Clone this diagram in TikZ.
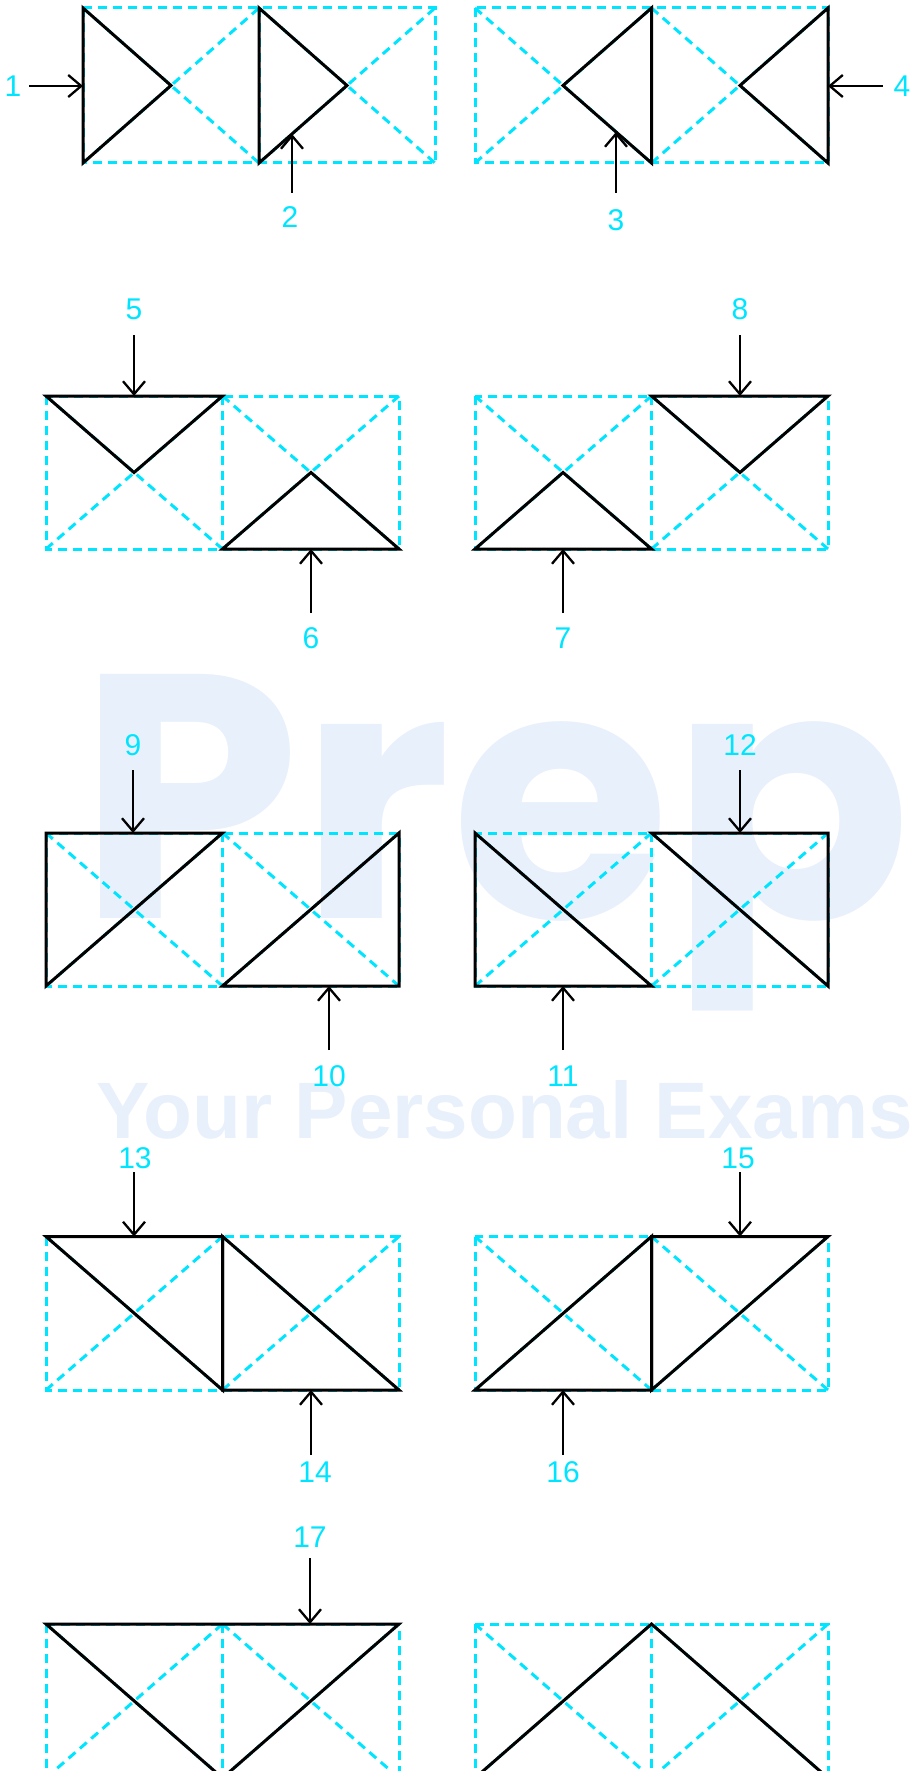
\documentclass[tikz,border=0pt]{standalone}
\usepackage{fontspec}
\setmainfont{Liberation Sans}
\newfontfamily\wmfont{Poppins}
\newfontfamily\wmfontb{Liberation Sans}
\usetikzlibrary{arrows.meta}
\definecolor{cy}{RGB}{0,229,255}
\definecolor{wmc}{RGB}{232,240,251}
\newcommand\pairgrid[5]{%
  \draw[grid] (#1,#4) rectangle (#3,#5);
  \draw[grid] (#2,#4) -- (#2,#5);
  \draw[grid] (#1,#4) -- (#2,#5) (#1,#5) -- (#2,#4) (#2,#4) -- (#3,#5) (#2,#5) -- (#3,#4);}
\begin{document}
\begin{tikzpicture}[x=1pt,y=-1pt,
  grid/.style={cy, line width=3pt, dash pattern=on 9pt off 6pt},
  blk/.style={black, line width=3pt, line join=miter, line cap=round},
  arr/.style={-{Straight Barb[length=13pt,width=22pt]}, line width=2.3pt, black},
  lab/.style={text=cy, font=\fontsize{30}{30}\selectfont, inner sep=0pt},
  wm/.style={text=wmc, inner sep=0pt, anchor=base west}]
\useasboundingbox (0,0) rectangle (910,1771);
\clip (0,0) rectangle (910,1771);
% watermark
\node[wm, font=\wmfont\bfseries\fontsize{355}{355}\selectfont, yscale=0.98] (wmA) at (78,918) {Prep};
\node[wm, font=\wmfontb\bfseries\fontsize{80}{80}\selectfont] (wmB) at (96,1138) {Your Personal Exams};
% dashed grids
\pairgrid{83}{259}{435}{8}{163}
\pairgrid{475}{651.5}{828}{8}{163}
\pairgrid{46}{222.5}{399}{396}{549}
\pairgrid{475}{651.5}{828}{396}{549}
\pairgrid{46}{222.5}{399}{833}{986}
\pairgrid{475}{651.5}{828}{833}{986}
\pairgrid{46}{222.5}{399}{1236.5}{1390}
\pairgrid{475}{651.5}{828}{1236.5}{1390}
\pairgrid{46}{222.5}{399}{1624}{1778}
\pairgrid{475}{651.5}{828}{1624}{1778}
% solid shapes
\draw[blk] (83,8) -- (171,85.5) -- (83,163) -- cycle;
\draw[blk] (259,8) -- (347,85.5) -- (259,163) -- cycle;
\draw[blk] (651.5,8) -- (563,85.5) -- (651.5,163) -- cycle;
\draw[blk] (828,8) -- (740,85.5) -- (828,163) -- cycle;
\draw[blk] (46,396) -- (222.5,396) -- (134,472.5) -- cycle;
\draw[blk] (222.5,549) -- (399,549) -- (311,472.5) -- cycle;
\draw[blk] (475,549) -- (651.5,549) -- (563,472.5) -- cycle;
\draw[blk] (651.5,396) -- (828,396) -- (740,472.5) -- cycle;
\draw[blk] (46,833) -- (222.5,833) -- (46,986) -- cycle;
\draw[blk] (222.5,986) -- (399,986) -- (399,833) -- cycle;
\draw[blk] (475,833) -- (475,986) -- (651.5,986) -- cycle;
\draw[blk] (651.5,833) -- (828,833) -- (828,986) -- cycle;
\draw[blk] (46,1236.5) -- (222.5,1236.5) -- (222.5,1390) -- cycle;
\draw[blk] (222.5,1236.5) -- (222.5,1390) -- (399,1390) -- cycle;
\draw[blk] (651.5,1236.5) -- (828,1236.5) -- (651.5,1390) -- cycle;
\draw[blk] (475,1390) -- (651.5,1390) -- (651.5,1236.5) -- cycle;
\draw[blk] (46,1624) -- (399,1624) -- (222.5,1778) -- cycle;
\draw[blk] (475,1778) -- (651.5,1624) -- (828,1778);
% labels
\node[lab] (l1) at (13,86) {1};
\node[lab] (l2) at (290,217) {2};
\node[lab] (l3) at (616,220) {3};
\node[lab] (l4) at (902,86) {4};
\node[lab] (l5) at (134,309) {5};
\node[lab] (l6) at (311,638) {6};
\node[lab] (l7) at (563,638) {7};
\node[lab] (l8) at (740,309) {8};
\node[lab] (l9) at (133,745) {9};
\node[lab] (l10) at (329,1076) {10};
\node[lab] (l11) at (563,1076) {11};
\node[lab] (l12) at (740,745) {12};
\node[lab] (l13) at (135,1158) {13};
\node[lab] (l14) at (315,1472) {14};
\node[lab] (l15) at (738,1158) {15};
\node[lab] (l16) at (563,1472) {16};
\node[lab] (l17) at (310,1537) {17};
% arrow ends
\coordinate (s1) at (29,86);    \coordinate (h1) at (83,86);
\coordinate (s2) at (292,193);  \coordinate (h2) at (292,134);
\coordinate (s3) at (616,193);  \coordinate (h3) at (616,132);
\coordinate (s4) at (883,86);   \coordinate (h4) at (828,86);
\coordinate (s5) at (134,335);  \coordinate (h5) at (134,396);
\coordinate (s6) at (311,613);  \coordinate (h6) at (311,549);
\coordinate (s7) at (563,613);  \coordinate (h7) at (563,549);
\coordinate (s8) at (740,335);  \coordinate (h8) at (740,396);
\coordinate (s9) at (133,770);  \coordinate (h9) at (133,833);
\coordinate (s10) at (329,1050); \coordinate (h10) at (329,986);
\coordinate (s11) at (563,1050); \coordinate (h11) at (563,986);
\coordinate (s12) at (740,770);  \coordinate (h12) at (740,833);
\coordinate (s13) at (134,1172); \coordinate (h13) at (134,1236.5);
\coordinate (s14) at (311,1455); \coordinate (h14) at (311,1390);
\coordinate (s15) at (740,1172); \coordinate (h15) at (740,1236.5);
\coordinate (s16) at (563,1455); \coordinate (h16) at (563,1390);
\coordinate (s17) at (310,1558); \coordinate (h17) at (310,1624);
\foreach \i in {1,...,17} {\draw[arr] (s\i) -- (h\i);}
\end{tikzpicture}
\end{document}
